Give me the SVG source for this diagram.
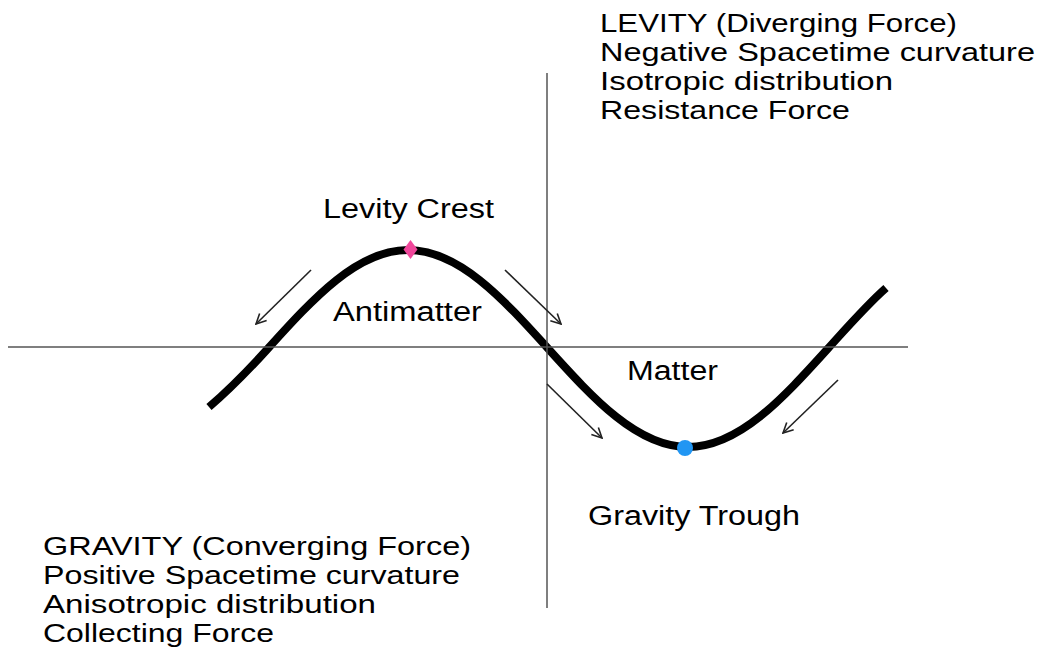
<svg xmlns="http://www.w3.org/2000/svg" width="1041" height="672" viewBox="0 0 1041 672">
  <style>
    .t { font-family: "Liberation Sans", Arial, Helvetica, sans-serif; font-size: 25px; fill: #000; }
    .l { font-family: "Liberation Sans", Arial, Helvetica, sans-serif; font-size: 27px; fill: #000; }
    .axis { stroke: #555; stroke-width: 1.5; fill: none; }
    .wave { stroke: #000; stroke-width: 8; fill: none; stroke-linecap: butt; }
    .arr { stroke: #222; stroke-width: 1.6; fill: none; marker-end: url(#open); }
  </style>
  <defs>
    <marker id="open" viewBox="0 0 12 12" refX="11" refY="6" markerWidth="12" markerHeight="12" markerUnits="userSpaceOnUse" orient="auto">
      <path d="M1,1 L11,6 L1,11" fill="none" stroke="#222" stroke-width="1.6"/>
    </marker>
  </defs>
  <rect width="1041" height="672" fill="#fff"/>

  <g id="wave">
    <path class="wave" d="M209,407 C229,390 248,370.6 268,348.5 C313.66,298.04 357.33,250 408,250 C458.67,250 502.34,298.04 548,348.5 C593.66,398.96 637.33,447 688,447 C738.67,447 782.34,398.96 828,348.5 C847.3,327.2 866.7,305 886,288"/>
  </g>

  <g id="axes">
    <line class="axis" x1="8" y1="347" x2="908" y2="347"/>
    <line class="axis" x1="547" y1="73" x2="547" y2="608"/>
  </g>

  <g id="connectors">
    <line class="arr" x1="311" y1="270" x2="256" y2="324"/>
    <line class="arr" x1="505" y1="270" x2="561" y2="324"/>
    <line class="arr" x1="547" y1="384" x2="602" y2="438"/>
    <line class="arr" x1="838" y1="380" x2="783" y2="433"/>
  </g>

  <g id="levity-crest-marker">
    <path d="M410.5,240 L417.5,249.5 L410.5,259 L403.5,249.5 Z" fill="#f0479b"/>
  </g>
  <g id="gravity-trough-marker">
    <circle cx="685" cy="448" r="8" fill="#2196f3"/>
  </g>

  <g id="levity-block">
    <text class="t" x="600" y="32" textLength="357" lengthAdjust="spacingAndGlyphs">LEVITY (Diverging Force)</text>
    <text class="t" x="600" y="61" textLength="435" lengthAdjust="spacingAndGlyphs">Negative Spacetime curvature</text>
    <text class="t" x="600" y="90" textLength="293" lengthAdjust="spacingAndGlyphs">Isotropic distribution</text>
    <text class="t" x="600" y="119" textLength="250" lengthAdjust="spacingAndGlyphs">Resistance Force</text>
  </g>

  <g id="gravity-block">
    <text class="t" x="43" y="555" textLength="428" lengthAdjust="spacingAndGlyphs">GRAVITY (Converging Force)</text>
    <text class="t" x="43" y="584" textLength="417" lengthAdjust="spacingAndGlyphs">Positive Spacetime curvature</text>
    <text class="t" x="43" y="613" textLength="333" lengthAdjust="spacingAndGlyphs">Anisotropic distribution</text>
    <text class="t" x="43" y="642" textLength="231" lengthAdjust="spacingAndGlyphs">Collecting Force</text>
  </g>

  <g id="levity-crest-label">
    <text class="l" x="323" y="218" textLength="171" lengthAdjust="spacingAndGlyphs">Levity Crest</text>
  </g>
  <g id="antimatter-label">
    <text class="l" x="333" y="321" textLength="149" lengthAdjust="spacingAndGlyphs">Antimatter</text>
  </g>
  <g id="matter-label">
    <text class="l" x="627" y="380" textLength="91" lengthAdjust="spacingAndGlyphs">Matter</text>
  </g>
  <g id="gravity-trough-label">
    <text class="l" x="588" y="525" textLength="212" lengthAdjust="spacingAndGlyphs">Gravity Trough</text>
  </g>
</svg>
